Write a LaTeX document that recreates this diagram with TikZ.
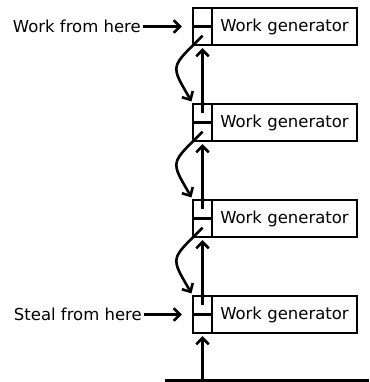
\documentclass[tikz,border=0pt]{standalone}
\usepackage{fontspec}
\setmainfont{DejaVu Sans}
\usepackage{tikz}
\usetikzlibrary{positioning,arrows.meta}

\begin{document}
\begin{tikzpicture}[
    genbox/.style={rectangle, draw=black, line width=2.2pt, outer sep=0pt, minimum width=145pt, minimum height=37pt, inner sep=0pt, font=\fontsize{16.5}{20}\selectfont},
    cellbox/.style={rectangle, draw=black, line width=2.2pt, outer sep=0pt, minimum width=19pt, minimum height=18.5pt, inner sep=0pt},
    lbl/.style={inner sep=0pt, font=\fontsize{16.5}{20}\selectfont},
    arrow/.style={-{Straight Barb[length=6.5pt,width=12.5pt]}, black, line width=2.6pt},
    node distance=59pt
]
\useasboundingbox (0,0) rectangle (369pt,-382pt);

% work generators
\node[genbox] (gen1) at (284.5pt,-26.5pt) {Work generator};
\node[genbox, below=of gen1] (gen2) {Work generator};
\node[genbox, below=of gen2] (gen3) {Work generator};
\node[genbox, below=of gen3] (gen4) {Work generator};

% two cells in front of each generator
\foreach \i in {1,...,4} {
  \node[cellbox, anchor=north east] (top\i) at (gen\i.north west) {};
  \node[cellbox, below=0pt of top\i] (bot\i) {};
}

% labels
\node[lbl, anchor=east] (workhere) at (141pt,-26.5pt) {Work from here};
\node[lbl, anchor=east] (stealhere) at (142pt,-314.5pt) {Steal from here};
\draw[arrow, shorten <=2pt, shorten >=11pt] (workhere.east) -- (top1.south west);
\draw[arrow, shorten <=2pt, shorten >=11pt] (stealhere.east) -- (top4.south west);

% links between generators
\foreach \i/\j in {1/2,2/3,3/4} {
  \draw[arrow, shorten >=3pt] (top\j.center) -- (bot\i.south);
  \draw[arrow, shorten >=3pt] (bot\i.center) to[out=225, in=120, looseness=1.7] (top\j.north west);
}

% ground
\coordinate (groundL) at (165pt,-380.5pt);
\coordinate (groundR) at (369pt,-380.5pt);
\coordinate (ground) at (bot4.south |- groundL);
\draw[line width=2.6pt] (groundL) -- (groundR);
\draw[arrow, shorten >=3pt] (ground) -- (bot4.south);

\end{tikzpicture}
\end{document}
